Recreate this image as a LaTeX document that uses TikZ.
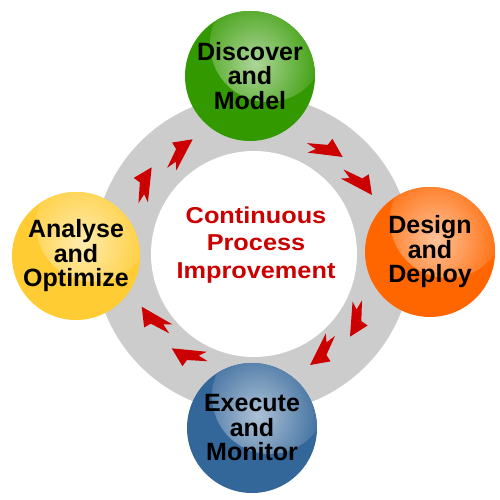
\documentclass[tikz,border=0pt]{standalone}
\usepackage{fontspec}
\newfontfamily\labfont{Liberation Sans}
\newfontfamily\cenfont[FakeStretch=1.1]{Liberation Sans}
\definecolor{ringgray}{HTML}{CCCCCC}
\definecolor{arrowred}{HTML}{CC0000}
\definecolor{sgreen}{HTML}{339900}
\definecolor{sorange}{HTML}{FF6600}
\definecolor{sblue}{HTML}{336699}
\definecolor{syellow}{HTML}{FFCC33}
\begin{document}
\begin{tikzpicture}[x=1pt,y=1pt,
  sphere/.style={circle, inner sep=0pt, minimum size=130pt, fill=#1, align=center,
    font=\labfont\bfseries\fontsize{25}{24.5}\selectfont, text=black,
    path picture={\shade[inner color=white!60!#1, outer color=#1]
      ([shift={(18pt,32pt)}]path picture bounding box.center) circle (58pt);}},
  flow/.pic={\fill[arrowred] (0,0) -- (-14.5,15) -- (-17.5,8) -- (-38,4.5)
      -- (-28,1) -- (-35,-4.5) -- cycle;}
]
\useasboundingbox (0,0) rectangle (500,500);
\fill[white] (0,0) rectangle (500,500);
\fill[ringgray] (253,246) circle (159);
\node[circle, fill=white, minimum size=206pt, inner sep=0pt] (hub) at (254,246) {};
\node[text=arrowred, align=center, font=\cenfont\bfseries\fontsize{23}{27.5}\selectfont]
  (title) at (256,255) {Continuous\\Process\\Improvement};
\pic[rotate=-14.5] (a1) at (342.7,343) {flow};
\pic[rotate=-35.1] (a2) at (372,305) {flow};
\pic[rotate=-101.5] (a3) at (350,163.3) {flow};
\pic[rotate=-124] (a4) at (310,135) {flow};
\pic[rotate=167] (a5) at (171.7,151.7) {flow};
\pic[rotate=142.7] (a6) at (141.7,193.3) {flow};
\pic[rotate=76.5] (a7) at (151.7,332.7) {flow};
\pic[rotate=55] (a8) at (192.7,360.7) {flow};
\node[sphere=sgreen] (discover) at (250,424) {Discover\\and\\Model};
\node[sphere=sorange] (design) at (430,248) {Design\\and\\Deploy};
\node[sphere=sblue] (execute) at (252,72) {Execute\\and\\Monitor};
\node[sphere=syellow, minimum size=128pt] (analyse) at (76,244) {Analyse\\and\\Optimize};
\end{tikzpicture}
\end{document}
